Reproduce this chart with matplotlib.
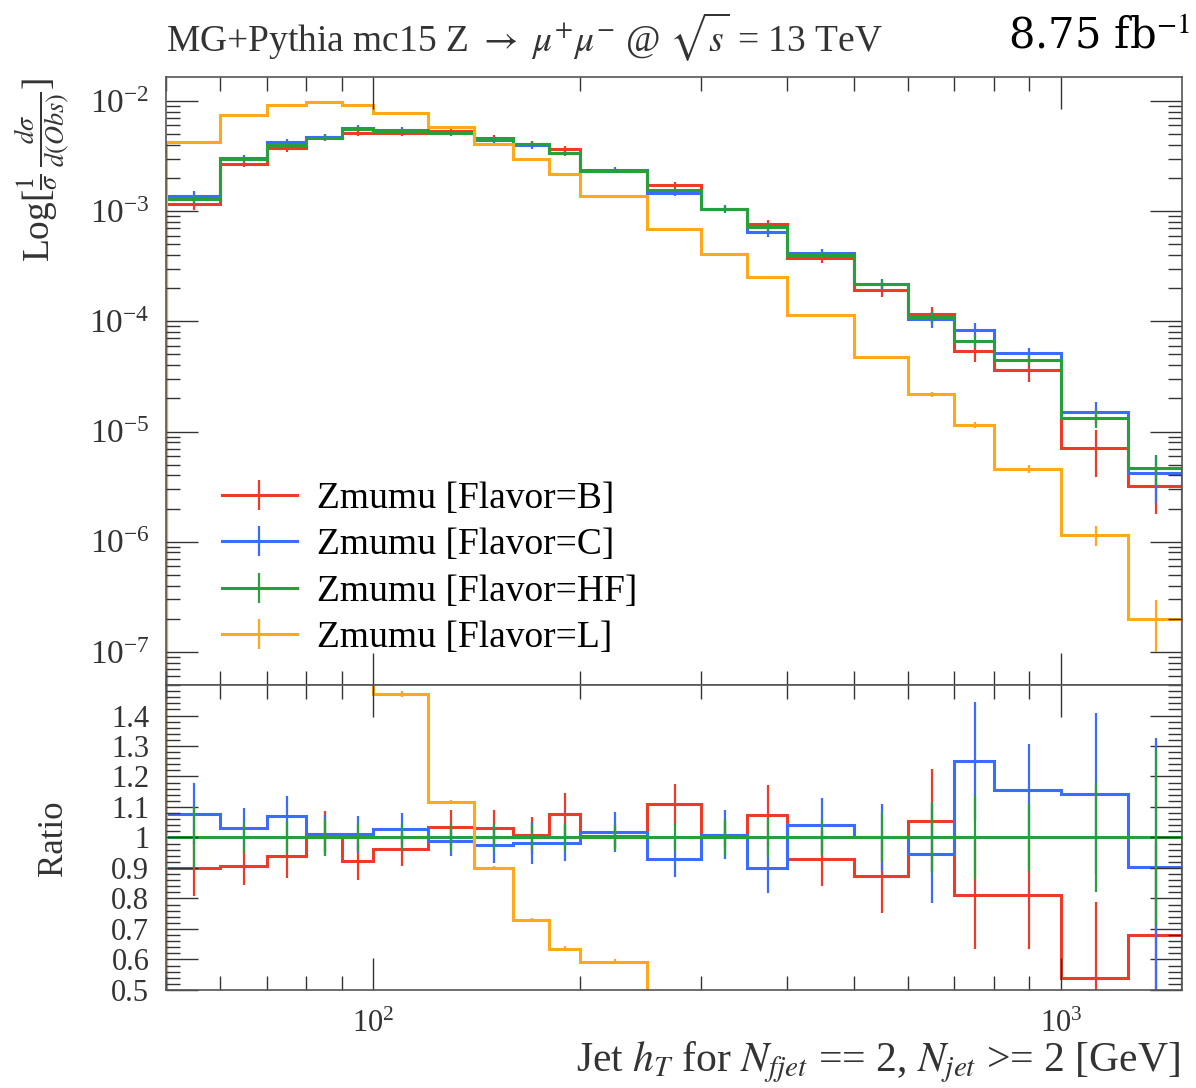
import numpy as np
import matplotlib.pyplot as plt
from matplotlib.lines import Line2D
from matplotlib.ticker import MultipleLocator, NullFormatter, LogLocator

plt.rcParams['font.family'] = ['Liberation Serif', 'DejaVu Serif']
plt.rcParams['mathtext.fontset'] = 'stix'

# bin edges [GeV]
edges = np.array([50, 60, 70, 80, 90, 100, 120, 140, 160, 180, 200, 250,
                  300, 350, 400, 500, 600, 700, 800, 1000, 1250, 1500])

# normalised distributions
hf_vals = np.array([1.28e-3, 2.95e-3, 3.95e-3, 4.65e-3, 5.61e-3, 5.34e-3, 5.15e-3,
                    4.49e-3, 4.04e-3, 3.40e-3, 2.31e-3, 1.57e-3, 1.04e-3, 7.16e-4,
                    4.03e-4, 2.20e-4, 1.10e-4, 6.68e-5, 4.42e-5, 1.32e-5, 4.65e-6])
b_vals = np.array([1.15e-3, 2.67e-3, 3.71e-3, 4.71e-3, 5.17e-3, 5.13e-3, 5.32e-3,
                   4.63e-3, 4.07e-3, 3.66e-3, 2.32e-3, 1.74e-3, 1.05e-3, 7.68e-4,
                   3.75e-4, 1.92e-4, 1.16e-4, 5.43e-5, 3.59e-5, 7.13e-6, 3.17e-6])
c_vals = np.array([1.38e-3, 3.04e-3, 4.23e-3, 4.71e-3, 5.67e-3, 5.49e-3, 5.09e-3,
                   4.38e-3, 3.97e-3, 3.34e-3, 2.35e-3, 1.46e-3, 1.05e-3, 6.44e-4,
                   4.19e-4, 2.20e-4, 1.04e-4, 8.35e-5, 5.11e-5, 1.51e-5, 4.20e-6])
l_vals = np.array([4.24e-3, 7.41e-3, 9.14e-3, 9.79e-3, 9.14e-3, 7.85e-3, 5.75e-3,
                   4.04e-3, 2.95e-3, 2.16e-3, 1.37e-3, 6.82e-4, 4.12e-4, 2.51e-4,
                   1.13e-4, 4.71e-5, 2.18e-5, 1.15e-5, 4.55e-6, 1.15e-6, 1.98e-7])

# relative uncertainties
hf_err = np.array([0.10, 0.05, 0.05, 0.06, 0.045, 0.045, 0.045, 0.043, 0.04, 0.045, 0.04,
                   0.045, 0.06, 0.065, 0.06, 0.08, 0.115, 0.135, 0.11, 0.18, 0.29])
b_err = np.array([0.10, 0.066, 0.075, 0.072, 0.065, 0.057, 0.055, 0.058, 0.06, 0.065, 0.04,
                  0.06, 0.04, 0.093, 0.097, 0.137, 0.16, 0.22, 0.22, 0.46, 0.44])
c_err = np.array([0.093, 0.063, 0.06, 0.06, 0.06, 0.05, 0.05, 0.06, 0.07, 0.06, 0.064,
                  0.065, 0.08, 0.09, 0.087, 0.11, 0.17, 0.155, 0.13, 0.23, 0.47])
l_err = np.array([0.01, 0.008, 0.007, 0.006, 0.006, 0.006, 0.007, 0.008, 0.01, 0.012, 0.012,
                  0.015, 0.02, 0.025, 0.025, 0.035, 0.05, 0.06, 0.08, 0.2, 0.5])

labels = ['Zmumu [Flavor=B]', 'Zmumu [Flavor=C]', 'Zmumu [Flavor=HF]', 'Zmumu [Flavor=L]']
colors = ['#ee3b27', '#3a6dff', '#25a03a', '#ffa81c']
series = [b_vals, c_vals, hf_vals, l_vals]
errors = [b_err, c_err, hf_err, l_err]

centers = 0.5 * (edges[:-1] + edges[1:])

fig = plt.figure(figsize=(11.96, 10.88), dpi=100)
ax = fig.add_axes([0.1388, 0.3704, 0.8495, 0.5588])
rax = fig.add_axes([0.1388, 0.0901, 0.8495, 0.2803], sharex=ax)

for vals, err, col in zip(series, errors, colors):
    ax.stairs(vals, edges, color=col, lw=2.2)
    ax.errorbar(centers, vals, yerr=vals * err, fmt='none', ecolor=col, elinewidth=1.6)
    ratio = vals / hf_vals
    rax.stairs(ratio, edges, color=col, lw=2.2)
    rax.errorbar(centers, ratio, yerr=ratio * err, fmt='none', ecolor=col, elinewidth=1.6)

ax.set_xscale('log')
ax.set_yscale('log')
ax.set_xlim(50, 1500)
ax.set_ylim(5e-8, 1.65e-2)
rax.set_ylim(0.5, 1.5)

ax.yaxis.set_minor_locator(LogLocator(base=10, subs=np.arange(2, 10), numticks=20))
ax.yaxis.set_minor_formatter(NullFormatter())
rax.xaxis.set_minor_formatter(NullFormatter())
rax.yaxis.set_minor_locator(MultipleLocator(0.02))
rticks = np.round(np.arange(0.5, 1.41, 0.1), 1)
rax.set_yticks(rticks)
rax.set_yticklabels(['%g' % v for v in rticks])

for a in (ax, rax):
    a.tick_params(which='both', direction='in', top=True, right=True, width=1.0,
                  colors='#333333', labelcolor='#333333')
    a.tick_params(which='major', length=23)
    a.tick_params(which='minor', length=10)
    a.tick_params(axis='y', pad=12)
    a.tick_params(axis='x', pad=14, labelsize=22)
    for s in a.spines.values():
        s.set_color('#555555')
        s.set_linewidth(1.2)
ax.tick_params(axis='y', labelsize=24)
rax.tick_params(axis='y', labelsize=22)
ax.tick_params(labelbottom=False)

handles = [Line2D([], [], color=c, lw=2.2, marker='|', markersize=22, markeredgewidth=1.6)
           for c in colors]
ax.legend(handles, labels, loc='upper left', bbox_to_anchor=(0.04, 0.36), frameon=False,
          fontsize=27, handlelength=2.0, handletextpad=0.55, labelspacing=0.32,
          borderaxespad=0)

fig.text(0.139, 0.966, r'MG+Pythia mc15 Z $\rightarrow$ $\mu^{+}\mu^{-}$ @ $\sqrt{s}$ = 13 TeV',
         ha='left', va='center', fontsize=27, color='#333333')
fig.text(0.995, 0.966, r'8.75 fb$^{-1}$', ha='right', va='center', fontsize=30,
         family='DejaVu Serif')
fig.text(0.036, 0.929, r'Log[$\frac{1}{\sigma}\,\frac{d\sigma}{d(Obs)}$]', rotation=90,
         ha='center', va='top', fontsize=27, color='#333333')
fig.text(0.045, 0.2298, 'Ratio', rotation=90, ha='center', va='center', fontsize=25,
         color='#333333')
fig.text(0.987, 0.024, r'Jet $h_T$ for $N_{fjet}$ == 2, $N_{jet}$ >= 2 [GeV]',
         ha='right', va='center', fontsize=30, color='#333333')

fig.savefig('out.png', dpi=100)
